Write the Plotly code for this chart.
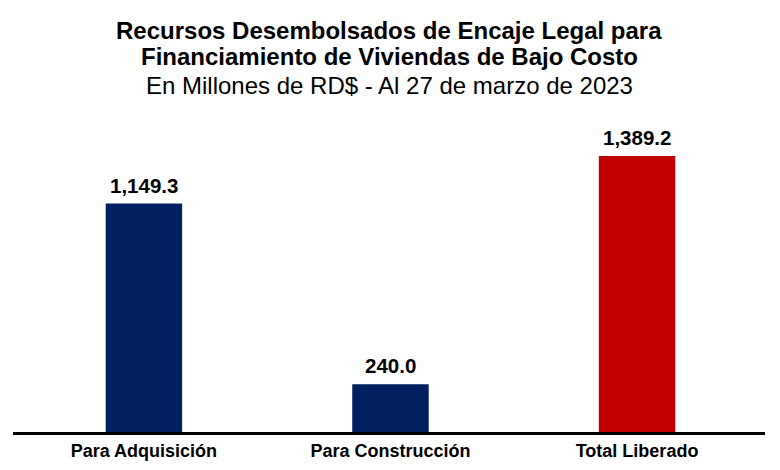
import plotly.graph_objects as go

categories = ["Para Adquisición", "Para Construcción", "Total Liberado"]
values = [1149.3, 240.0, 1389.2]
bar_colors = ["#002060", "#002060", "#C00000"]
value_labels = ["1,149.3", "240.0", "1,389.2"]

title_lines = [
    "<b>Recursos Desembolsados de Encaje Legal para</b>",
    "<b>Financiamiento de Viviendas de Bajo Costo</b>",
]
subtitle = "En Millones de RD$ - Al 27 de marzo de 2023"

FONT = "Liberation Sans, Arial, sans-serif"

fig = go.Figure()
fig.add_trace(go.Bar(
    x=categories,
    y=values,
    width=0.31,
    marker=dict(color=bar_colors, line=dict(width=0)),
    hoverinfo="skip",
))

# value labels above the bars
for cat, val, lab in zip(categories, values, value_labels):
    fig.add_annotation(
        x=cat, y=val, text="<b>" + lab + "</b>", showarrow=False,
        yanchor="bottom", yshift=5,
        font=dict(family=FONT, size=20.5, color="black"),
    )

# title block, one annotation per line
for line, shift in zip(title_lines, [80, 54]):
    fig.add_annotation(
        text=line, xref="paper", yref="paper", x=0.5, y=1, yshift=shift,
        xanchor="center", yanchor="middle", showarrow=False,
        font=dict(family=FONT, size=24, color="black"),
    )
fig.add_annotation(
    text=subtitle, xref="paper", yref="paper", x=0.5, y=1, yshift=25,
    xanchor="center", yanchor="middle", showarrow=False,
    font=dict(family=FONT, size=24, color="black"),
)

fig.update_layout(
    width=780, height=470,
    margin=dict(l=5, r=23, t=102, b=46),
    paper_bgcolor="white", plot_bgcolor="white",
    showlegend=False,
    xaxis=dict(
        range=[-0.531, 2.519],
        showline=True, linecolor="black", linewidth=3,
        ticks="", showgrid=False,
        tickfont=dict(family=FONT, size=18, color="black"),
        tickprefix="<b>", ticksuffix="</b>",
    ),
    yaxis=dict(range=[0, 1620], visible=False),
)

fig.write_html("out.html")
